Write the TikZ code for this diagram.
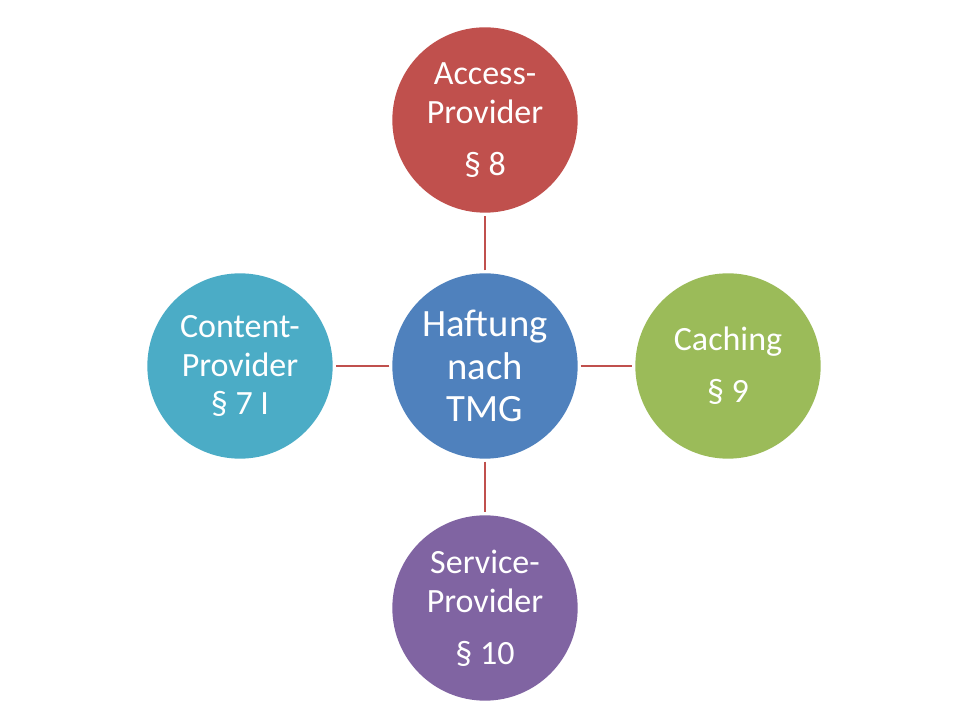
\documentclass[tikz,border=0pt]{standalone}
\usepackage{fontspec}
\setmainfont{Carlito}
\definecolor{accRed}{HTML}{C0504D}
\definecolor{hubBlue}{HTML}{4F81BD}
\definecolor{cacheGreen}{HTML}{9BBB59}
\definecolor{servPurple}{HTML}{8064A2}
\definecolor{contAqua}{HTML}{4BACC6}
\begin{document}
\begin{tikzpicture}[x=0.75pt, y=0.75pt,
    bubble/.style={circle, minimum size=139pt, inner sep=0pt, text=white,
        align=center, font=\fontsize{25.5}{29}\selectfont},
    link/.style={accRed, line width=2.2pt, shorten <=2pt, shorten >=2pt}]
    % Rahmen wie Folie
    \useasboundingbox (0,0) rectangle (960,720);

    % Kreise
    \node[bubble, fill=hubBlue, font=\fontsize{29}{32}\selectfont] (hub) at (485,354) {Haftung\\nach\\TMG};
    \node[bubble, fill=accRed] (access) at (485,600) {Access-\\Provider\\[10pt]§ 8};
    \node[bubble, fill=cacheGreen] (cache) at (728,354) {Caching\\[10pt]§ 9};
    \node[bubble, fill=servPurple] (service) at (485,112) {Service-\\Provider\\[10pt]§ 10};
    \node[bubble, fill=contAqua] (content) at (240,354) {Content-\\Provider\\§ 7 I};

    % Verbindungen
    \draw[link] (hub) -- (access);
    \draw[link] (hub) -- (cache);
    \draw[link] (hub) -- (service);
    \draw[link] (hub) -- (content);
\end{tikzpicture}
\end{document}
